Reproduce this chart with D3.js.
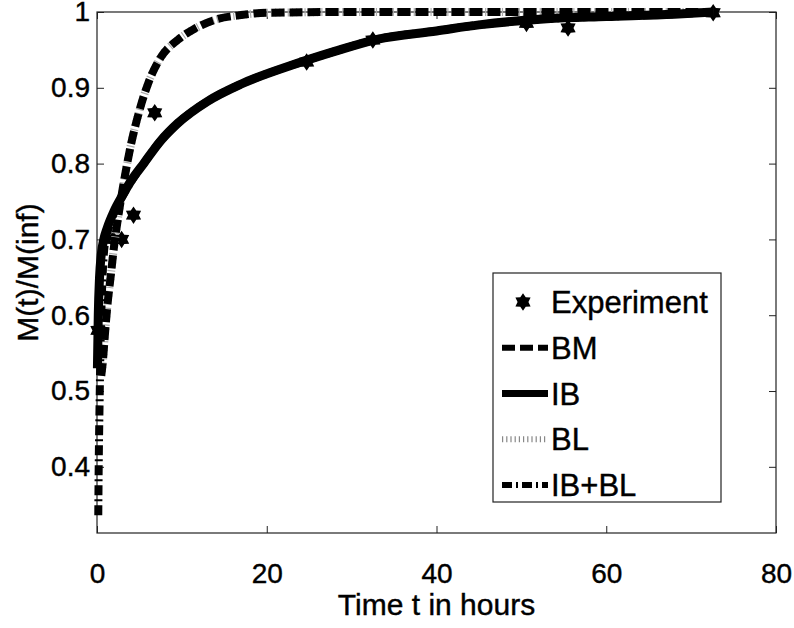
<!DOCTYPE html>
<html>
<head>
<meta charset="utf-8">
<script src="https://cdn.jsdelivr.net/npm/d3@7"></script>
<style>
  body { margin: 0; background: #fff; }
  svg { display: block; }
  text { font-family: "Liberation Sans", Arial, sans-serif; fill: #000; stroke: #000; stroke-width: 0.4px; }
</style>
</head>
<body>
<svg width="794" height="628"></svg>
<script>
// data
var expT = [0.1, 1.9, 2.9, 4.3, 6.8, 24.7, 32.5, 50.6, 55.5, 72.6];
var expY = [0.58, 0.70, 0.70, 0.732, 0.867, 0.934, 0.963, 0.985, 0.979, 0.999];

var bmT = [0.5, 0.7, 0.9, 1.2, 1.6, 2.0, 2.5, 3.0, 4.0, 5.0, 6.0, 7.5, 9.5, 11.5, 14, 17, 20, 30, 40, 50, 60, 72.6];
var bmY = [0.52, 0.54, 0.57, 0.61, 0.65, 0.69, 0.73, 0.765, 0.825, 0.87, 0.905, 0.94, 0.963, 0.978, 0.99, 0.996, 0.999, 1, 1, 1, 1, 1];

var ibT = [0.05, 0.15, 0.3, 0.5, 0.8, 1.2, 2.0, 3.0, 4.0, 5.5, 7.5, 9.5, 13, 17, 23, 28, 33, 40, 45, 53, 60, 68, 72.6];
var ibY = [0.53, 0.60, 0.65, 0.68, 0.70, 0.715, 0.737, 0.758, 0.777, 0.80, 0.83, 0.853, 0.882, 0.905, 0.93, 0.948, 0.964, 0.975, 0.983, 0.991, 0.994, 0.997, 1.0];

var blT = [0.5, 0.7, 0.9, 1.2, 1.6, 2.0, 2.5, 3.0, 4.0, 5.0, 6.0, 7.5, 9.5, 11.5, 14, 17, 20, 30, 40, 50, 60, 72.6];
var blY = [0.52, 0.54, 0.57, 0.61, 0.65, 0.69, 0.73, 0.765, 0.825, 0.87, 0.905, 0.94, 0.963, 0.978, 0.99, 0.996, 0.999, 1, 1, 1, 1, 1];

var ibblT = [0.15, 0.2, 0.3, 0.4, 0.5, 0.65, 0.8, 1.0, 1.3, 2.0, 3.0, 4.0, 5.5, 7.5, 9.5, 13, 17, 23, 28, 33, 40, 45, 53, 60, 68, 72.6];
var ibblY = [0.336, 0.40, 0.48, 0.55, 0.60, 0.65, 0.68, 0.70, 0.712, 0.735, 0.757, 0.776, 0.80, 0.83, 0.853, 0.882, 0.905, 0.93, 0.948, 0.964, 0.975, 0.983, 0.991, 0.994, 0.997, 1.0];

var xTicks = [0, 20, 40, 60, 80];
var yTicks = [0.4, 0.5, 0.6, 0.7, 0.8, 0.9, 1];
var legendNames = ["Experiment", "BM", "IB", "BL", "IB+BL"];

var svg = d3.select("svg"),
    plotLeft = 97, plotRight = 776, plotTop = 12, plotBottom = 533;

var x = d3.scaleLinear().domain([0, 80]).range([plotLeft, plotRight]);
var y = d3.scaleLinear().domain([0.3127, 1]).range([plotBottom, plotTop]);

function pairs(ts, ys) {
  return ts.map(function(t, i) { return [t, ys[i]]; });
}

var line = d3.line()
    .x(function(d) { return x(d[0]); })
    .y(function(d) { return y(d[1]); })
    .curve(d3.curveMonotoneX);

// six-pointed star, like matlab's hexagram marker
var hexagram = {
  draw: function(ctx, size) {
    var r = Math.sqrt(size) * 0.62, ri = r * 0.62;
    for (var i = 0; i < 12; i++) {
      var a = i * Math.PI / 6 - Math.PI / 2, rr = i % 2 ? ri : r;
      if (i === 0) ctx.moveTo(rr * Math.cos(a), rr * Math.sin(a));
      else ctx.lineTo(rr * Math.cos(a), rr * Math.sin(a));
    }
    ctx.closePath();
  }
};
var star = d3.symbol().type(hexagram).size(200);

// axes, ticks pointing inward on all four sides
var fmtY = function(d) { return d === 1 ? "1" : d3.format(".1f")(d); };

function styleAxis(g) {
  g.select(".domain").remove();
  g.selectAll("text").style("font-size", "28px").attr("fill", "#000");
  g.selectAll("line").attr("stroke", "#222");
}

svg.append("g")
    .attr("transform", "translate(0," + plotBottom + ")")
    .call(d3.axisBottom(x).tickValues(xTicks).tickSizeInner(-7).tickSizeOuter(0).tickPadding(30).tickFormat(d3.format("d")))
    .call(styleAxis);

svg.append("g")
    .attr("transform", "translate(0," + plotTop + ")")
    .call(d3.axisTop(x).tickValues(xTicks).tickSizeInner(-7).tickSizeOuter(0).tickFormat(""))
    .call(styleAxis);

svg.append("g")
    .attr("transform", "translate(" + plotLeft + ",0)")
    .call(d3.axisLeft(y).tickValues(yTicks).tickSizeInner(-7).tickSizeOuter(0).tickPadding(7).tickFormat(fmtY))
    .call(styleAxis);

svg.append("g")
    .attr("transform", "translate(" + plotRight + ",0)")
    .call(d3.axisRight(y).tickValues(yTicks).tickSizeInner(-7).tickSizeOuter(0).tickFormat(""))
    .call(styleAxis);

svg.append("rect")
    .attr("x", plotLeft).attr("y", plotTop)
    .attr("width", plotRight - plotLeft).attr("height", plotBottom - plotTop)
    .attr("fill", "none").attr("stroke", "#222").attr("stroke-width", 1.2);

// series
var plot = svg.append("g");

plot.selectAll(".exp")
    .data(pairs(expT, expY))
    .enter().append("path")
    .attr("class", "exp")
    .attr("d", star)
    .attr("transform", function(d) { return "translate(" + x(d[0]) + "," + y(d[1]) + ")"; })
    .attr("fill", "#000");

var styles = [
  { name: "BM", data: pairs(bmT, bmY), width: 8, dash: "13,5", color: "#000", z: 1 },
  { name: "IB", data: pairs(ibT, ibY), width: 9, dash: null, color: "#000", z: 2 },
  { name: "BL", data: pairs(blT, blY), width: 8, dash: "1.2,3", color: "#aaa", z: 0 },
  { name: "IB+BL", data: pairs(ibblT, ibblY), width: 8, dash: "10,4,2,4", color: "#000", z: 3 }
];

styles.slice().sort(function(a, b) { return a.z - b.z; }).forEach(function(s) {
  plot.append("path")
      .datum(s.data)
      .attr("d", line)
      .attr("fill", "none")
      .attr("stroke", s.color)
      .attr("stroke-width", s.width)
      .attr("stroke-dasharray", s.dash);
});

// legend
var lg = svg.append("g").attr("transform", "translate(493,273)");
lg.append("rect")
    .attr("width", 228).attr("height", 229)
    .attr("fill", "#fff").attr("stroke", "#222").attr("stroke-width", 1.2);

var rowY = d3.scalePoint().domain(legendNames).range([29, 212]);

legendNames.forEach(function(name, i) {
  var ry = rowY(name);
  if (i === 0) {
    lg.append("path").attr("d", star)
        .attr("transform", "translate(30," + ry + ")")
        .attr("fill", "#000");
  } else {
    var s = styles[i - 1];
    lg.append("line")
        .attr("x1", 9).attr("x2", 55)
        .attr("y1", ry).attr("y2", ry)
        .attr("stroke", s.name === "BL" ? "#888" : s.color)
        .attr("stroke-width", s.width - 2)
        .attr("stroke-dasharray", s.dash);
  }
  lg.append("text")
      .attr("x", 58).attr("y", ry)
      .attr("dy", "0.36em")
      .style("font-size", "31px")
      .text(name);
});

// axis labels
svg.append("text")
    .attr("x", (plotLeft + plotRight) / 2).attr("y", 615)
    .attr("text-anchor", "middle")
    .style("font-size", "30px")
    .text("Time t in hours");

svg.append("text")
    .attr("transform", "translate(38," + (plotTop + plotBottom) / 2 + ") rotate(-90)")
    .attr("text-anchor", "middle")
    .style("font-size", "30px")
    .text("M(t)/M(inf)");
</script>
</body>
</html>
